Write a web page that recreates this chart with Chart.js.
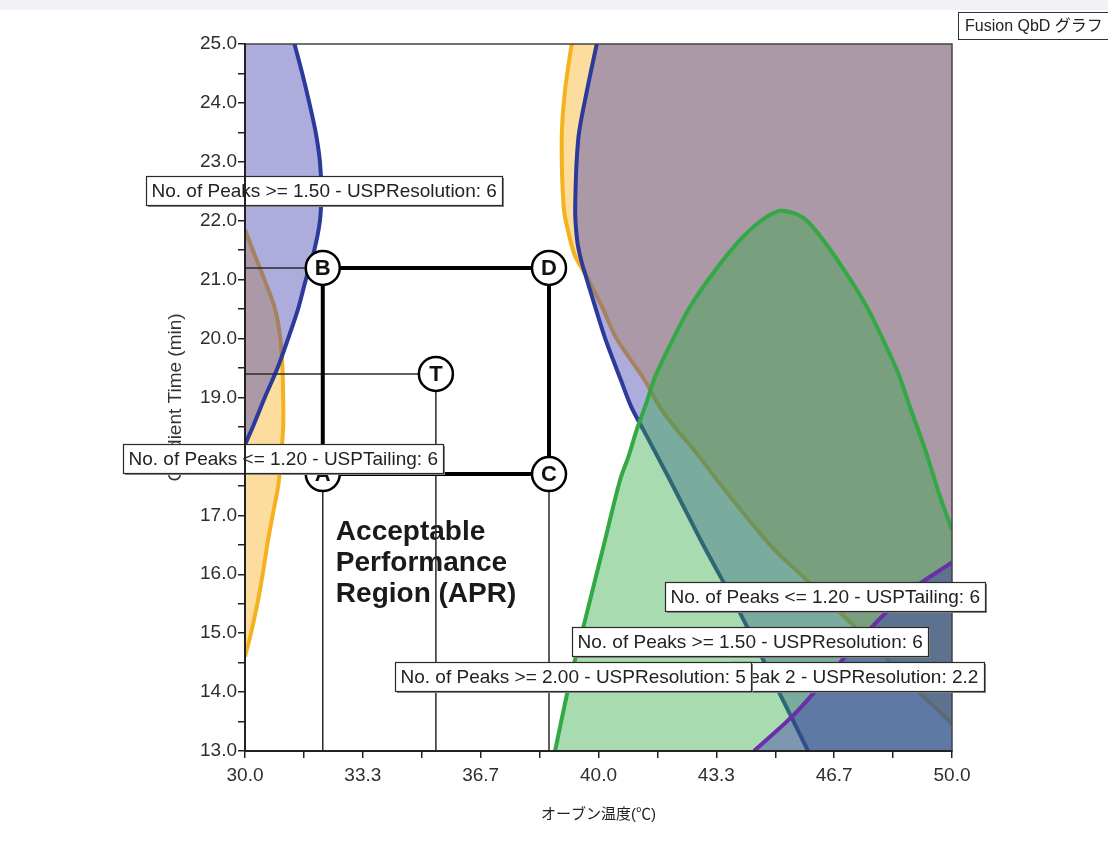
<!DOCTYPE html>
<html>
<head>
<meta charset="utf-8">
<title>Fusion QbD グラフ</title>
<script src="https://cdn.jsdelivr.net/npm/chart.js@4.4.0/dist/chart.umd.min.js"></script>
<style>
  html, body { margin: 0; padding: 0; }
  body { width: 1108px; height: 852px; overflow: hidden; background: linear-gradient(#f1f2f5 0, #f1f2f5 10px, #fff 10px); }
  #wrap { position: relative; width: 1108px; height: 852px; }
</style>
</head>
<body>
<div id="wrap"><canvas id="myChart" width="1108" height="852"></canvas></div>
<script>
const ctx = document.getElementById("myChart");
const FONT = '"Liberation Sans", Arial, "Noto Sans CJK JP", sans-serif';

// axis ticks (x minor ticks every 1.667, labels on every other one)
var xTickValues = [30, 31.667, 33.333, 35, 36.667, 38.333, 40, 41.667, 43.333, 45, 46.667, 48.333, 50];
var xTickLabels = ["30.0", "", "33.3", "", "36.7", "", "40.0", "", "43.3", "", "46.7", "", "50.0"];
var yTickValues = [13, 13.5, 14, 14.5, 15, 15.5, 16, 16.5, 17, 17.5, 18, 18.5, 19, 19.5, 20, 20.5,
  21, 21.5, 22, 22.5, 23, 23.5, 24, 24.5, 25];

// No. of Peaks >= 1.50 - USPResolution (blue), x read at each y
var resLeftY = [25, 24.5, 24, 23.5, 23, 22.5, 22, 21.5, 21, 20.5, 20, 19.5, 19, 18.5, 18.2];
var resLeftX = [31.40, 31.62, 31.82, 32.0, 32.12, 32.16, 32.12, 31.96, 31.72, 31.50, 31.22, 30.92, 30.56, 30.22, 30.0];
var resRightY = [25, 24.2, 23.4, 22.2, 21.7, 21.4, 21.1, 20.55, 20, 19.3, 18.85, 18.45, 17.6, 16.5, 15.35, 14.2, 13.05, 13];
var resRightX = [39.95, 39.67, 39.43, 39.34, 39.39, 39.48, 39.62, 39.9, 40.19, 40.63, 40.92, 41.27, 42.02, 42.96, 44.0, 44.94, 45.89, 45.93];

// No. of Peaks <= 1.20 - USPTailing (orange), x read at each y
var tailLeftY = [21.85, 21.5, 21, 20.5, 20, 19.5, 19, 18.5, 18, 17.5, 17, 16.5, 16, 15.5, 15, 14.6];
var tailLeftX = [30.0, 30.22, 30.55, 30.85, 31.0, 31.06, 31.08, 31.08, 31.02, 30.94, 30.78, 30.63, 30.5, 30.35, 30.17, 30.0];
var tailRightY = [25, 24.2, 23.4, 22.2, 21.7, 21.4, 21.1, 20.55, 20, 19.3, 18.75, 18, 17.6, 16.5, 15.9, 15.35, 14.75, 14.2, 13.5, 13.45];
var tailRightX = [39.24, 39.05, 38.96, 39.02, 39.19, 39.34, 39.62, 40.09, 40.51, 41.3, 41.83, 42.85, 43.35, 44.85, 45.89, 46.83, 47.87, 48.72, 49.94, 50.0];

// No. of Peaks >= 2.00 - USPResolution (green), y read at each x
var res2X = [38.77, 39.2, 39.67, 40.14, 40.61, 40.85, 41.08, 41.35, 41.6, 42.1, 42.59, 43.24, 44.0, 44.6, 45.15,
  45.8, 46.36, 47.02, 47.59, 48.05, 48.48, 48.81, 49.25, 49.66, 50.0];
var res2Y = [13.0, 14.21, 15.34, 16.47, 17.6, 18.0, 18.45, 18.9, 19.35, 19.98, 20.54, 21.11, 21.67, 22.0, 22.17,
  22.05, 21.67, 21.1, 20.54, 19.98, 19.41, 18.84, 18.1, 17.32, 16.75];

// Peak 2 - USPResolution: 2.2 (purple)
var peak2X = [44.4, 45.5, 46.4, 47.2, 48.05, 49.0, 50.0];
var peak2Y = [13.0, 13.6, 14.2, 14.75, 15.3, 15.8, 16.2];

// design space corners and target
var pointNames = ["A", "B", "C", "D", "T"];
var pointX = [32.2, 32.2, 38.6, 38.6, 35.4];
var pointY = [17.7, 21.2, 17.7, 21.2, 19.4];
var boxOrder = ["A", "B", "D", "C", "A"];
var dropLeft = ["B", "T"];
var dropDown = ["A", "T", "C"];

var aprLines = ["Acceptable", "Performance", "Region (APR)"];

var regionLabels = [
  { text: "No. of Peaks >= 1.50 - USPResolution: 6", x: 27.2, y: 22.51 },
  { text: "No. of Peaks <= 1.20 - USPTailing: 6", x: 26.55, y: 17.96 },
  { text: "No. of Peaks <= 1.20 - USPTailing: 6", x: 41.88, y: 15.62 },
  { text: "No. of Peaks >= 1.50 - USPResolution: 6", x: 39.25, y: 14.86 },
  { text: "Peak 2 - USPResolution: 2.2", x: 43.75, y: 14.26 },
  { text: "No. of Peaks >= 2.00 - USPResolution: 5", x: 34.24, y: 14.26 },
];

function pts(xs, ys) {
  return xs.map(function (v, i) { return { x: v, y: ys[i] }; });
}

function region(xs, ys, axis, edge, line, fillColor, order) {
  return {
    data: pts(xs, ys),
    indexAxis: axis,
    fill: { value: edge },
    borderColor: line,
    backgroundColor: fillColor,
    borderWidth: 4,
    pointRadius: 0,
    tension: 0.3,
    order: order,
  };
}

function thinLine(data) {
  return { data: data, borderColor: "#2a2a2a", borderWidth: 1.5, pointRadius: 0, fill: false, order: 2 };
}

var datasets = [];

// markers
datasets.push({
  data: pts(pointX, pointY),
  showLine: false,
  pointRadius: 17,
  pointBackgroundColor: "#fff",
  pointBorderColor: "#000",
  pointBorderWidth: 2.5,
  order: 0,
});

// design space box
datasets.push({
  data: boxOrder.map(function (n) { var i = pointNames.indexOf(n); return { x: pointX[i], y: pointY[i] }; }),
  borderColor: "#000",
  borderWidth: 4,
  pointRadius: 0,
  fill: false,
  order: 1,
});

dropLeft.forEach(function (n) {
  var i = pointNames.indexOf(n);
  datasets.push(thinLine([{ x: 30, y: pointY[i] }, { x: pointX[i], y: pointY[i] }]));
});
dropDown.forEach(function (n) {
  var i = pointNames.indexOf(n);
  datasets.push(thinLine([{ x: pointX[i], y: pointY[i] }, { x: pointX[i], y: 13 }]));
});

var PURPLE = "#6b2fa8", GREEN = "#33a845", BLUE = "#2c3a9c", ORANGE = "#f5b21e";
datasets.push(region(peak2X, peak2Y, "x", 13, PURPLE, "rgba(50,40,170,0.38)", 3));
datasets.push(region(res2X, res2Y, "x", 13, GREEN, "rgba(50,170,70,0.42)", 4));
datasets.push(region(resLeftX, resLeftY, "y", 30, BLUE, "rgba(70,70,180,0.45)", 5));
datasets.push(region(resRightX, resRightY, "y", 50, BLUE, "rgba(70,70,180,0.45)", 5));
datasets.push(region(tailLeftX, tailLeftY, "y", 30, ORANGE, "rgba(250,180,40,0.45)", 6));
datasets.push(region(tailRightX, tailRightY, "y", 50, ORANGE, "rgba(250,180,40,0.45)", 6));

const annotations = {
  id: "annotations",
  beforeDatasetsDraw(chart) {
    const c = chart.ctx, x = chart.scales.x, y = chart.scales.y;
    c.save();
    c.font = "bold 28px " + FONT;
    c.fillStyle = "#1a1a1a";
    var px = x.getPixelForValue(32.57), py = y.getPixelForValue(16.58);
    aprLines.forEach(function (t, i) { c.fillText(t, px, py + i * 31); });
    c.restore();
  },
  afterDatasetsDraw(chart) {
    const c = chart.ctx, x = chart.scales.x, y = chart.scales.y, a = chart.chartArea;
    c.save();
    // frame
    c.strokeStyle = "#444";
    c.lineWidth = 1.5;
    c.strokeRect(a.left, a.top, a.right - a.left, a.bottom - a.top);

    // marker letters
    c.font = "bold 22px " + FONT;
    c.fillStyle = "#111";
    c.textAlign = "center";
    c.textBaseline = "middle";
    pointNames.forEach(function (n, i) {
      c.fillText(n, x.getPixelForValue(pointX[i]), y.getPixelForValue(pointY[i]) + 1);
    });

    // region labels
    c.font = "19px " + FONT;
    c.textAlign = "left";
    regionLabels.forEach(function (l) {
      var left = Math.round(x.getPixelForValue(l.x)) + 0.5;
      var cy = y.getPixelForValue(l.y);
      var w = Math.round(c.measureText(l.text).width + 11), h = 29;
      var top = Math.round(cy - h / 2) + 0.5;
      c.fillStyle = "#888";
      c.fillRect(left + 1.5, top + 1.5, w, h);
      c.fillStyle = "#fff";
      c.fillRect(left, top, w, h);
      c.strokeStyle = "#2a2a2a";
      c.lineWidth = 1.2;
      c.strokeRect(left, top, w, h);
      c.fillStyle = "#222";
      c.fillText(l.text, left + 5, cy + 1);
    });

    // corner caption
    c.font = "16px " + FONT;
    c.fillStyle = "#fff";
    c.fillRect(958.5, 12.5, 160, 27);
    c.strokeStyle = "#333";
    c.lineWidth = 1;
    c.strokeRect(958.5, 12.5, 160, 27);
    c.fillStyle = "#222";
    c.fillText("Fusion QbD グラフ", 965, 26.5);
    c.restore();
  },
};

const chart = new Chart(ctx, {
  type: "line",
  data: { datasets: datasets },
  plugins: [annotations],
  options: {
    responsive: false,
    animation: false,
    events: [],
    layout: { padding: { top: 44, right: 156, left: 0, bottom: 0 } },
    plugins: { legend: { display: false }, tooltip: { enabled: false } },
    scales: {
      x: {
        type: "linear",
        min: 30,
        max: 50,
        afterBuildTicks: function (s) { s.ticks = xTickValues.map(function (v) { return { value: v }; }); },
        afterFit: function (s) { s.height = 101; },
        ticks: {
          autoSkip: false,
          maxRotation: 0,
          padding: 6,
          color: "#2e2e2e",
          font: { family: FONT, size: 19 },
          callback: function (v, i) { return xTickLabels[i]; },
        },
        grid: { drawOnChartArea: false, drawTicks: true, tickLength: 7, color: "#222", lineWidth: 1.5 },
        border: { display: true, color: "#222", width: 2, z: 1 },
        title: {
          display: true,
          text: "オーブン温度(℃)",
          color: "#222",
          font: { family: FONT, size: 15 },
          padding: { top: 0, bottom: 28 },
        },
      },
      y: {
        type: "linear",
        min: 13,
        max: 25,
        afterBuildTicks: function (s) { s.ticks = yTickValues.map(function (v) { return { value: v }; }); },
        afterFit: function (s) { s.width = 245; },
        ticks: {
          autoSkip: false,
          padding: 1,
          color: "#2e2e2e",
          font: { family: FONT, size: 19 },
          callback: function (v) { return v % 1 === 0 ? v.toFixed(1) : ""; },
        },
        grid: { drawOnChartArea: false, drawTicks: true, tickLength: 7, color: "#222", lineWidth: 1.5 },
        border: { display: true, color: "#222", width: 2, z: 1 },
        title: {
          display: true,
          text: "Gradient Time (min)",
          color: "#333",
          font: { family: FONT, size: 19 },
          padding: { top: 164, bottom: 0 },
        },
      },
    },
  },
});
</script>
</body>
</html>
